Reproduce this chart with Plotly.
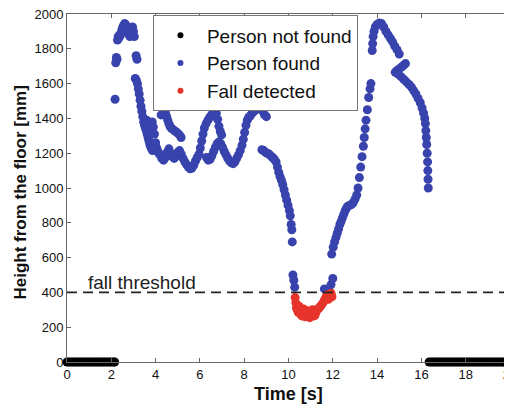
import plotly.graph_objects as go

# ---------------- data ----------------
not_found_t = [0.0, 0.1, 0.2, 0.3, 0.4, 0.5, 0.6, 0.7, 0.8, 0.9, 1.0, 1.1, 1.2, 1.3, 1.4, 1.5,
               1.6, 1.7, 1.8, 1.9, 2.0, 2.1, 2.15,
               16.35, 16.45, 16.55, 16.65, 16.75, 16.85, 16.95, 17.05, 17.15, 17.25, 17.35,
               17.45, 17.55, 17.65, 17.75, 17.85, 17.95, 18.05, 18.15, 18.25, 18.35, 18.45,
               18.55, 18.65, 18.75, 18.85, 18.95, 19.05, 19.15, 19.25, 19.35, 19.45, 19.55,
               19.65, 19.75, 19.85, 19.95, 20.0]
not_found_h = [0] * len(not_found_t)

found_t = [2.17, 2.20, 2.23, 2.26, 2.28, 2.31, 2.34, 2.37, 2.40, 2.44, 2.48, 2.52, 2.56, 2.60,
           2.64, 2.68, 2.72, 2.76, 2.80, 2.84, 2.88, 2.92, 2.96, 3.00, 3.04, 3.12, 3.16,
           3.08, 3.13, 3.18, 3.22, 3.26, 3.30, 3.34, 3.38, 3.42, 3.46, 3.50, 3.54, 3.58,
           3.62, 3.66, 3.70, 3.74, 3.78, 3.82, 3.86,
           3.60, 3.65, 3.70, 3.75, 3.80, 3.85, 3.90, 3.95, 4.00, 4.05, 4.10, 4.15, 4.20,
           4.25, 4.28, 4.32, 4.36, 4.40, 4.45, 4.50, 4.55, 4.60, 4.65, 4.70, 4.80, 4.90,
           5.00, 5.08, 5.15,
           4.28, 4.36, 4.44, 4.52, 4.60, 4.68, 4.76, 4.84, 4.92, 5.00, 5.08, 5.16, 5.24,
           5.32, 5.40, 5.48, 5.56, 5.64, 5.72, 5.80, 5.88, 5.96, 6.02, 6.08, 6.14, 6.20,
           6.28, 6.36, 6.44, 6.52, 6.60, 6.68, 6.74, 6.80, 6.86, 6.92, 6.98,
           6.30, 6.38, 6.46, 6.54, 6.62, 6.70, 6.78, 6.86, 6.94, 7.02, 7.10, 7.18, 7.26,
           7.34, 7.42, 7.50, 7.58, 7.66, 7.74, 7.82, 7.90, 7.96, 8.02, 8.08, 8.14, 8.20,
           8.28, 8.36, 8.44, 8.52, 8.60, 8.68, 8.76, 8.84, 8.92, 9.00,
           8.80, 8.88, 8.96, 9.04, 9.12, 9.20, 9.28, 9.36, 9.44, 9.50, 9.56, 9.62, 9.68,
           9.74, 9.80, 9.86, 9.92, 9.98, 10.04, 10.08, 10.12, 10.15, 10.17, 10.20, 10.24,
           10.28,
           11.62, 11.72, 11.82, 11.92, 12.00, 11.95, 12.02, 12.08, 12.14, 12.20, 12.26,
           12.32, 12.38, 12.44, 12.50, 12.56, 12.62, 12.68, 12.76, 12.84, 12.92, 13.00,
           13.08, 13.14, 13.20, 13.26, 13.32, 13.38, 13.42, 13.46, 13.50, 13.56, 13.62,
           13.68, 13.72,
           13.78, 13.80, 13.82, 13.86, 13.92, 14.00, 14.10, 14.20, 14.30, 14.40, 14.50,
           14.60, 14.70, 14.80, 14.90, 15.00,
           15.28, 15.20, 15.10, 15.00, 14.90, 14.82, 14.95, 15.08, 15.20, 15.32, 15.44,
           15.55, 15.65, 15.75, 15.85, 15.95, 16.03, 16.10, 16.15, 16.18, 16.20, 16.22,
           16.24, 16.26, 16.28, 16.29, 16.30, 16.31]
found_h = [1510, 1720, 1750, 1740, 1850, 1870, 1860, 1880, 1875, 1890, 1910, 1925, 1935, 1945,
           1940, 1930, 1915, 1900, 1880, 1870, 1890, 1910, 1925, 1900, 1870, 1760, 1740,
           1630, 1620, 1600, 1570, 1540, 1505, 1470, 1440, 1410, 1380, 1360, 1345, 1330,
           1310, 1290, 1270, 1250, 1235, 1225, 1215,
           1390, 1370, 1350, 1340, 1360, 1380, 1350, 1310, 1260, 1230, 1210, 1200, 1190,
           1420, 1470, 1480, 1465, 1450, 1430, 1410, 1390, 1370, 1355, 1345, 1335, 1325,
           1315, 1305, 1290,
           1170, 1160, 1175, 1205, 1225, 1200, 1180, 1170, 1185, 1205, 1215, 1195, 1170,
           1150, 1135, 1120, 1110, 1115, 1130, 1155, 1175, 1195, 1230, 1270, 1310, 1345,
           1370, 1390, 1405, 1420, 1435, 1445, 1430, 1395, 1355, 1325, 1305,
           1175, 1160, 1165, 1185, 1210, 1235, 1255, 1265, 1255, 1235, 1210, 1190, 1170,
           1155, 1145, 1140, 1150, 1170, 1190, 1215, 1245, 1280, 1320, 1360, 1390, 1405,
           1415, 1430, 1440, 1450, 1460, 1465, 1455, 1440, 1420, 1410,
           1220, 1215, 1205, 1200, 1195, 1185, 1175, 1165, 1150, 1120, 1090, 1065, 1045,
           1020, 990, 960, 930, 900, 870, 840, 790, 760, 690, 500, 470,
           430,
           420, 405, 415, 445, 480, 620, 660, 690, 715, 740, 765,
           790, 810, 830, 850, 870, 885, 895, 900, 905, 915, 935,
           960, 1000, 1060, 1120, 1180, 1240, 1290, 1340, 1390, 1450, 1520,
           1570, 1600,
           1790, 1830, 1870, 1900, 1925, 1940, 1948, 1945, 1925, 1900, 1880,
           1860, 1840, 1815, 1795, 1770,
           1715, 1705, 1695, 1685, 1675, 1665, 1655, 1640, 1625, 1610, 1595,
           1580, 1560, 1540, 1515, 1490, 1460, 1430, 1400, 1370, 1330, 1290,
           1250, 1200, 1150, 1100, 1050, 1000]

fall_t = [10.30, 10.33, 10.36, 10.40, 10.44, 10.48, 10.52, 10.56, 10.60, 10.64, 10.68, 10.72,
          10.76, 10.80, 10.84, 10.88, 10.92, 10.96, 11.00, 11.04, 11.08, 11.12, 11.16, 11.20,
          11.26, 11.32, 11.38, 11.44, 11.50, 11.56, 11.62, 11.68, 11.74, 11.80, 11.86, 11.92,
          11.96]
fall_h = [370, 340, 310, 300, 285, 320, 300, 275, 265, 290, 305, 280,
          260, 270, 295, 280, 260, 255, 265, 285, 300, 280, 265, 270,
          290, 305, 310, 320, 330, 340, 355, 370, 385, 360, 390, 395,
          375]

threshold = 400
x_ticks = [0, 2, 4, 6, 8, 10, 12, 14, 16, 18, 20]
y_ticks = [0, 200, 400, 600, 800, 1000, 1200, 1400, 1600, 1800, 2000]

series_names = ["Person not found", "Person found", "Fall detected"]
BLUE = "#3843ad"
RED = "#e6342b"
COLORS = ["black", BLUE, RED]
FONT = "Liberation Sans, Arial, sans-serif"

fig = go.Figure()
for (xs, ys), name, col in zip([(not_found_t, not_found_h), (found_t, found_h), (fall_t, fall_h)],
                               series_names, COLORS):
    fig.add_trace(go.Scatter(x=xs, y=ys, mode="markers", name=name,
                             showlegend=False, marker=dict(color=col, size=9), cliponaxis=False))
# legend entries with the small symbols seen in the reference legend
for name, col in zip(series_names, COLORS):
    fig.add_trace(go.Scatter(x=[None], y=[None], mode="markers", name=name,
                             marker=dict(color=col, size=6)))

fig.add_shape(type="line", x0=0, x1=20, y0=threshold, y1=threshold, xref="x", yref="y",
              line=dict(color="#222", width=1.6, dash="10px,6px"))
fig.add_annotation(x=3.39, y=threshold, text="fall threshold", showarrow=False,
                   yanchor="bottom", yshift=-3, font=dict(family=FONT, size=19, color="#222"))

# axis titles placed as annotations for exact positioning
fig.add_annotation(x=0.5, y=-0.092, xref="paper", yref="paper", text="<b>Time [s]</b>",
                   showarrow=False, xanchor="center", yanchor="middle",
                   font=dict(family=FONT, size=18, color="#111"))
fig.add_annotation(x=-0.106, y=0.487, xref="paper", yref="paper",
                   text="<b>Height from the floor [mm]</b>", textangle=-90,
                   showarrow=False, xanchor="center", yanchor="middle",
                   font=dict(family=FONT, size=17, color="#111"))

axis_common = dict(showline=True, linecolor="#666", linewidth=1, mirror="ticks",
                   ticks="inside", ticklen=4, tickcolor="#666", showgrid=False, zeroline=False,
                   automargin=False, ticklabeloverflow="allow",
                   tickfont=dict(family=FONT, size=13, color="#111"))
fig.update_xaxes(range=[0, 20], tickvals=x_ticks, ticktext=[str(v) for v in x_ticks],
                 **axis_common)
fig.update_yaxes(range=[0, 2000], tickvals=y_ticks, ticktext=[str(v) for v in y_ticks],
                 **axis_common)

# the page body adds an 8px offset, so the figure is 8px smaller than the window
fig.update_layout(
    width=504, height=398,
    margin=dict(l=59, r=2, t=6, b=44),
    paper_bgcolor="white", plot_bgcolor="white",
    showlegend=True,
    legend=dict(x=0.194, y=0.996, xanchor="left", yanchor="top",
                bgcolor="white", bordercolor="#777", borderwidth=1,
                font=dict(family=FONT, size=19, color="#111"),
                itemsizing="trace", itemwidth=43, tracegroupgap=0),
)

fig.write_html("out.html")
